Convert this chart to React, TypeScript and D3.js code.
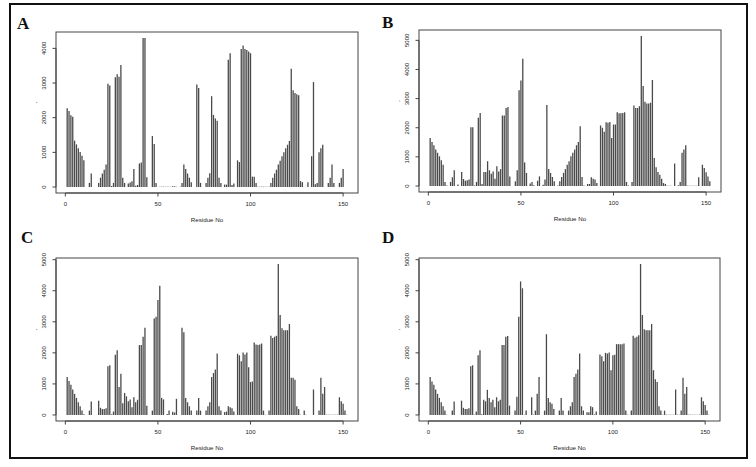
import React from "react";
import * as d3 from "d3";

// Residue-wise values (residues 1..152)
const seriesA = [
  2270, 2190, 2070, 2030, 1340, 1230, 1120, 1010, 900, 770,
  0, 0, 120, 390, 0, 0, 0, 120, 270, 390,
  500, 650, 2980, 2930, 30, 120, 3170, 3250, 3180, 3520,
  270, 120, 0, 100, 130, 170, 520, 40, 60, 680,
  710, 4300, 4300, 280, 0, 0, 1470, 1240, 120, 0,
  10, 10, 10, 10, 10, 10, 10, 20, 20, 10,
  0, 10, 120, 650, 520, 390, 270, 140, 0, 0,
  2960, 2860, 120, 0, 0, 120, 270, 400, 2620, 2080,
  1980, 1910, 270, 120, 0, 70, 70, 3670, 3860, 60,
  100, 0, 770, 720, 3980, 4080, 3980, 3950, 3910, 3860,
  300, 300, 120, 10, 10, 10, 10, 10, 10, 10,
  120, 270, 390, 500, 650, 760, 890, 1000, 1120, 1220,
  1330, 3410, 2790, 2710, 2680, 2650, 170, 140, 0, 0,
  140, 0, 890, 3030, 80, 120, 1000, 1120, 1220, 0,
  0, 120, 270, 650, 120, 0, 0, 120, 270, 520,
  0, 0,
];

const seriesB = [
  1650, 1510, 1400, 1250, 1140, 1020, 880, 730, 140, 20,
  0, 140, 300, 540, 0, 50, 0, 480, 240, 180,
  200, 220, 2020, 2020, 20, 140, 2340, 2510, 70, 480,
  480, 850, 540, 420, 500, 250, 680, 500, 580, 2420,
  2420, 2680, 2710, 330, 0, 0, 160, 540, 3290, 3620,
  4370, 810, 450, 0, 90, 140, 30, 0, 180, 330,
  0, 40, 220, 2780, 580, 450, 310, 160, 0, 20,
  160, 310, 450, 580, 730, 850, 1020, 1140, 1250, 1400,
  1510, 2050, 310, 20, 0, 70, 70, 300, 250, 220,
  100, 0, 2080, 2000, 1860, 2190, 2170, 2200, 1650, 2110,
  2110, 2530, 2500, 2500, 2510, 2530, 140, 20, 0, 140,
  2760, 2680, 2680, 2740, 5150, 3430, 2890, 2830, 2830, 2860,
  3640, 960, 640, 480, 390, 250, 100, 70, 10, 10,
  10, 0, 770, 0, 30, 140, 1140, 1250, 1400, 10,
  10, 10, 10, 10, 10, 300, 0, 730, 620, 470,
  330, 160,
];

const seriesC = [
  1220, 1090, 970, 820, 680, 550, 410, 280, 140, 20,
  0, 0, 140, 430, 0, 0, 0, 460, 230, 190,
  190, 220, 1570, 1600, 20, 110, 1940, 2080, 900, 1330,
  380, 710, 600, 440, 500, 250, 570, 410, 490, 2250,
  2250, 2520, 2810, 300, 0, 0, 140, 3110, 3160, 3700,
  4160, 550, 500, 0, 30, 140, 0, 100, 80, 520,
  0, 0, 2810, 2660, 550, 410, 280, 140, 0, 0,
  140, 550, 140, 0, 0, 140, 280, 410, 1220, 1350,
  1460, 1980, 280, 140, 0, 90, 110, 280, 250, 220,
  110, 0, 1970, 1920, 1730, 2010, 1950, 2010, 1540, 1060,
  1080, 2330, 2270, 2250, 2270, 2300, 140, 10, 0, 140,
  2550, 2480, 2520, 2550, 4860, 3220, 2790, 2730, 2730, 2730,
  2930, 1200, 1200, 1130, 280, 190, 10, 0, 140, 10,
  0, 0, 0, 820, 0, 0, 140, 1200, 680, 900,
  10, 10, 10, 10, 10, 10, 10, 570, 440, 360,
  140, 10,
];

const seriesD = [
  1220, 1080, 970, 820, 680, 550, 410, 280, 140, 10,
  0, 0, 140, 430, 0, 0, 0, 460, 230, 190,
  190, 220, 1570, 1600, 10, 110, 1920, 2080, 20, 490,
  440, 810, 550, 410, 490, 250, 570, 440, 490, 2250,
  2250, 2520, 2540, 300, 0, 0, 140, 590, 3160, 4300,
  4080, 10, 140, 0, 0, 570, 10, 140, 680, 1220,
  0, 0, 140, 2600, 550, 410, 360, 190, 0, 0,
  140, 550, 140, 0, 0, 140, 280, 410, 1220, 1330,
  1460, 1980, 280, 140, 0, 90, 90, 280, 250, 20,
  110, 0, 1950, 1890, 1730, 2000, 1980, 2010, 1440, 1920,
  1940, 2280, 2280, 2280, 2280, 2300, 140, 10, 0, 140,
  2550, 2490, 2520, 2570, 4860, 3220, 2760, 2730, 2730, 2730,
  2930, 1440, 1150, 1060, 280, 140, 10, 140, 10, 10,
  10, 10, 10, 820, 10, 10, 140, 1200, 680, 900,
  10, 10, 10, 10, 10, 10, 10, 570, 440, 320,
  140, 10,
];

const xTicks = [0, 50, 100, 150];
const yTicksA = [0, 1000, 2000, 3000, 4000];
const yTicksBCD = [0, 1000, 2000, 3000, 4000, 5000];
const panelLetters = ["A", "B", "C", "D"];
const xLabel = "Residue No";
const yLabel = ".";

const panels = [
  { letter: panelLetters[0], data: seriesA, yTicks: yTicksA, box: { x0: 56, x1: 358, y0: 32, y1: 193 }, lx: 17, ly: 29 },
  { letter: panelLetters[1], data: seriesB, yTicks: yTicksBCD, box: { x0: 419, x1: 721, y0: 30, y1: 192 }, lx: 382, ly: 28 },
  { letter: panelLetters[2], data: seriesC, yTicks: yTicksBCD, box: { x0: 56, x1: 358, y0: 258, y1: 421 }, lx: 21, ly: 243 },
  { letter: panelLetters[3], data: seriesD, yTicks: yTicksBCD, box: { x0: 419, x1: 720, y0: 258, y1: 421 }, lx: 382, ly: 243 },
];

const AX = "#444";
const BAR = "#4a4a4a";
const FONT = "Liberation Sans, Arial, sans-serif";

function Panel({ p }: { p: any }) {
  const { box, data } = p;
  const n = data.length;
  const xr = n - 1;
  const x = d3.scaleLinear().domain([1 - 0.04 * xr, n + 0.04 * xr]).range([box.x0, box.x1]);
  const maxV = d3.max(data as number[]) as number;
  const y = d3.scaleLinear().domain([-0.04 * maxV, maxV * 1.04]).range([box.y1, box.y0]);
  const yTicks: number[] = p.yTicks;
  return (
    <g>
      <text x={p.lx} y={p.ly} fontFamily="Liberation Serif, Times New Roman, serif" fontWeight="bold" fontSize={17} fill="#111">
        {p.letter}
      </text>
      {(data as number[]).map((v, i) =>
        v > 0 ? (
          <line key={i} x1={x(i + 1)} x2={x(i + 1)} y1={y(0)} y2={y(v)} stroke={BAR} strokeWidth={1.3} />
        ) : null
      )}
      <rect x={box.x0} y={box.y0} width={box.x1 - box.x0} height={box.y1 - box.y0} fill="none" stroke={AX} strokeWidth={1} />
      <line x1={x(xTicks[0])} x2={x(xTicks[xTicks.length - 1])} y1={box.y1} y2={box.y1} stroke={AX} strokeWidth={1} />
      {xTicks.map((t) => (
        <g key={t}>
          <line x1={x(t)} x2={x(t)} y1={box.y1} y2={box.y1 + 3.5} stroke={AX} strokeWidth={1} />
          <text x={x(t)} y={box.y1 + 13} textAnchor="middle" fontFamily={FONT} fontSize={6} fill="#222">
            {t}
          </text>
        </g>
      ))}
      <text x={(box.x0 + box.x1) / 2} y={box.y1 + 29} textAnchor="middle" fontFamily={FONT} fontSize={6.2} fill="#222">
        {xLabel}
      </text>
      <line x1={box.x0} x2={box.x0} y1={y(yTicks[0])} y2={y(yTicks[yTicks.length - 1])} stroke={AX} strokeWidth={1} />
      {yTicks.map((t) => (
        <g key={t}>
          <line x1={box.x0 - 3.5} x2={box.x0} y1={y(t)} y2={y(t)} stroke={AX} strokeWidth={1} />
          <text
            transform={`translate(${box.x0 - 10},${y(t)}) rotate(-90)`}
            textAnchor="middle"
            fontFamily={FONT}
            fontSize={6}
            fill="#222"
          >
            {t}
          </text>
        </g>
      ))}
      <text
        transform={`translate(${box.x0 - 19},${(box.y0 + box.y1) / 2 - 10}) rotate(-90)`}
        textAnchor="middle"
        fontFamily={FONT}
        fontSize={7}
        fill="#222"
      >
        {yLabel}
      </text>
    </g>
  );
}

export default function App() {
  return (
    <svg
      width={756}
      height={467}
      viewBox="0 0 756 467"
      style={{ position: "absolute", left: 0, top: 0, background: "#fff" }}
    >
      <rect x={0} y={0} width={756} height={467} fill="#fff" />
      <rect x={10} y={4} width={737} height={454} fill="none" stroke="#111" strokeWidth={2} />
      {panels.map((p) => (
        <Panel key={p.letter} p={p} />
      ))}
    </svg>
  );
}
